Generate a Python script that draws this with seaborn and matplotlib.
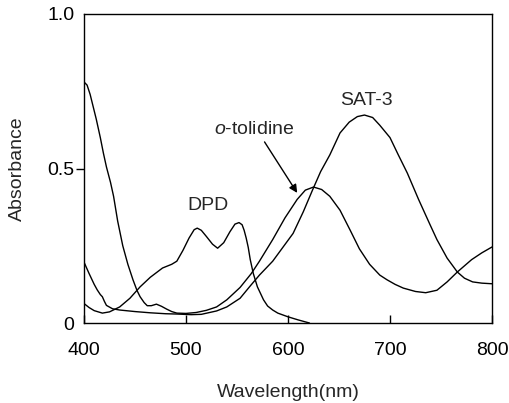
import matplotlib
matplotlib.use("Agg")
import matplotlib.pyplot as plt
import seaborn as sns
import pandas as pd

# ---- data ----
tol_x = [400, 403, 406, 409, 412, 416, 419, 422, 426, 429, 433, 438, 443, 448, 452, 455, 459, 462, 466, 471, 476, 481, 486, 491,
         500, 510, 520, 530, 540, 553, 564, 572, 585, 597, 609, 617, 625, 633, 641, 651, 661, 670, 680, 690, 697, 705, 713, 725,
         735, 746, 756, 766, 780, 790, 800]
tol_y = [0.78, 0.77, 0.74, 0.70, 0.66, 0.60, 0.55, 0.505, 0.455, 0.41, 0.33, 0.25, 0.19, 0.14, 0.105, 0.085, 0.066, 0.056, 0.056, 0.061, 0.054, 0.045, 0.037, 0.032,
         0.031, 0.034, 0.041, 0.052, 0.075, 0.115, 0.16, 0.2, 0.27, 0.34, 0.40, 0.43, 0.44, 0.432, 0.41, 0.365, 0.30, 0.24, 0.19, 0.155, 0.14, 0.125, 0.113, 0.102,
         0.098, 0.106, 0.133, 0.165, 0.205, 0.227, 0.246]

sat_x = [400, 405, 410, 413, 416, 418, 420, 422, 428, 435, 450, 465, 480, 491, 505, 515, 530, 540, 553, 563, 572, 585, 595, 605,
         615, 624, 632, 641, 651, 660, 668, 675, 683, 690, 700, 708, 717, 728, 739, 746, 756, 766, 773, 781, 790, 800]
sat_y = [0.197, 0.16, 0.125, 0.107, 0.092, 0.085, 0.07, 0.057, 0.046, 0.042, 0.037, 0.033, 0.03, 0.029, 0.027, 0.028, 0.039, 0.052, 0.08, 0.12, 0.155, 0.2, 0.245, 0.29,
         0.36, 0.43, 0.49, 0.544, 0.615, 0.65, 0.668, 0.673, 0.665, 0.64, 0.60, 0.545, 0.485, 0.40, 0.32, 0.27, 0.21, 0.165, 0.145, 0.133, 0.129, 0.127]

dpd_x = [400, 405, 410, 418, 425, 435, 445, 455, 465, 477, 486, 491, 497, 503, 508, 511, 515, 520, 526, 531, 537, 543, 548, 552,
         555, 557, 559, 561, 563, 566, 570, 576, 580, 585, 590, 600, 610, 621]
dpd_y = [0.063, 0.05, 0.04, 0.032, 0.036, 0.052, 0.08, 0.117, 0.148, 0.178, 0.19, 0.2, 0.235, 0.275, 0.302, 0.307, 0.30, 0.28, 0.255, 0.242, 0.26, 0.295, 0.32, 0.325,
         0.318, 0.30, 0.275, 0.245, 0.205, 0.16, 0.117, 0.075, 0.055, 0.042, 0.032, 0.02, 0.01, 0.0]

x_ticks = [400, 500, 600, 700, 800]
y_ticks = [0, 0.5, 1.0]
y_tick_labels = ["0", "0.5", "1.0"]

# ---- styling ----
sns.set_style("ticks")
plt.rcParams["font.family"] = ["Liberation Sans", "DejaVu Sans"]
plt.rcParams["mathtext.fontset"] = "custom"
plt.rcParams["mathtext.rm"] = "Liberation Sans"
plt.rcParams["mathtext.it"] = "Liberation Sans:italic"

FS = 14

fig = plt.figure(figsize=(5.09, 4.03), dpi=100)
ax = fig.add_axes([84 / 509, 80 / 403, 408 / 509, 309 / 403])

for xs, ys, name in [(tol_x, tol_y, "o-tolidine"), (sat_x, sat_y, "SAT-3"), (dpd_x, dpd_y, "DPD")]:
    df = pd.DataFrame({"x": xs, "y": ys})
    sns.lineplot(data=df, x="x", y="y", ax=ax, color="black", linewidth=1.0, sort=False, estimator=None)

ax.set_xlim(400, 800)
ax.set_ylim(0, 1.0)
ax.set_xticks(x_ticks)
ax.set_xticklabels([str(t) for t in x_ticks])
ax.set_yticks(y_ticks)
ax.set_yticklabels(y_tick_labels)
ax.tick_params(axis="x", direction="in", length=6, width=1, pad=14, labelsize=FS, colors="black")
ax.tick_params(axis="y", direction="out", length=6, width=1, pad=1, labelsize=FS, colors="black")
yt = ax.yaxis.get_major_ticks()
yt[0].tick1line.set_visible(False)
yt[2].tick1line.set_visible(False)

for s in ax.spines.values():
    s.set_visible(True)
    s.set_color("black")
    s.set_linewidth(1.0)

ax.set_xlabel("Wavelength(nm)", fontsize=FS, labelpad=18)
ax.set_ylabel("Absorbance", fontsize=FS, labelpad=15)

ax.text(677, 0.72, "SAT-3", fontsize=FS, ha="center", va="center")
ax.text(522, 0.379, "DPD", fontsize=FS, ha="center", va="center")
ax.text(567, 0.625, r"$\it{o}$-tolidine", fontsize=FS, ha="center", va="center")
ax.annotate("", xy=(609, 0.421), xytext=(577, 0.586),
            arrowprops=dict(arrowstyle="-|>", color="black", lw=1.0, mutation_scale=12, shrinkA=0, shrinkB=0))

fig.savefig("out.png", dpi=100)
